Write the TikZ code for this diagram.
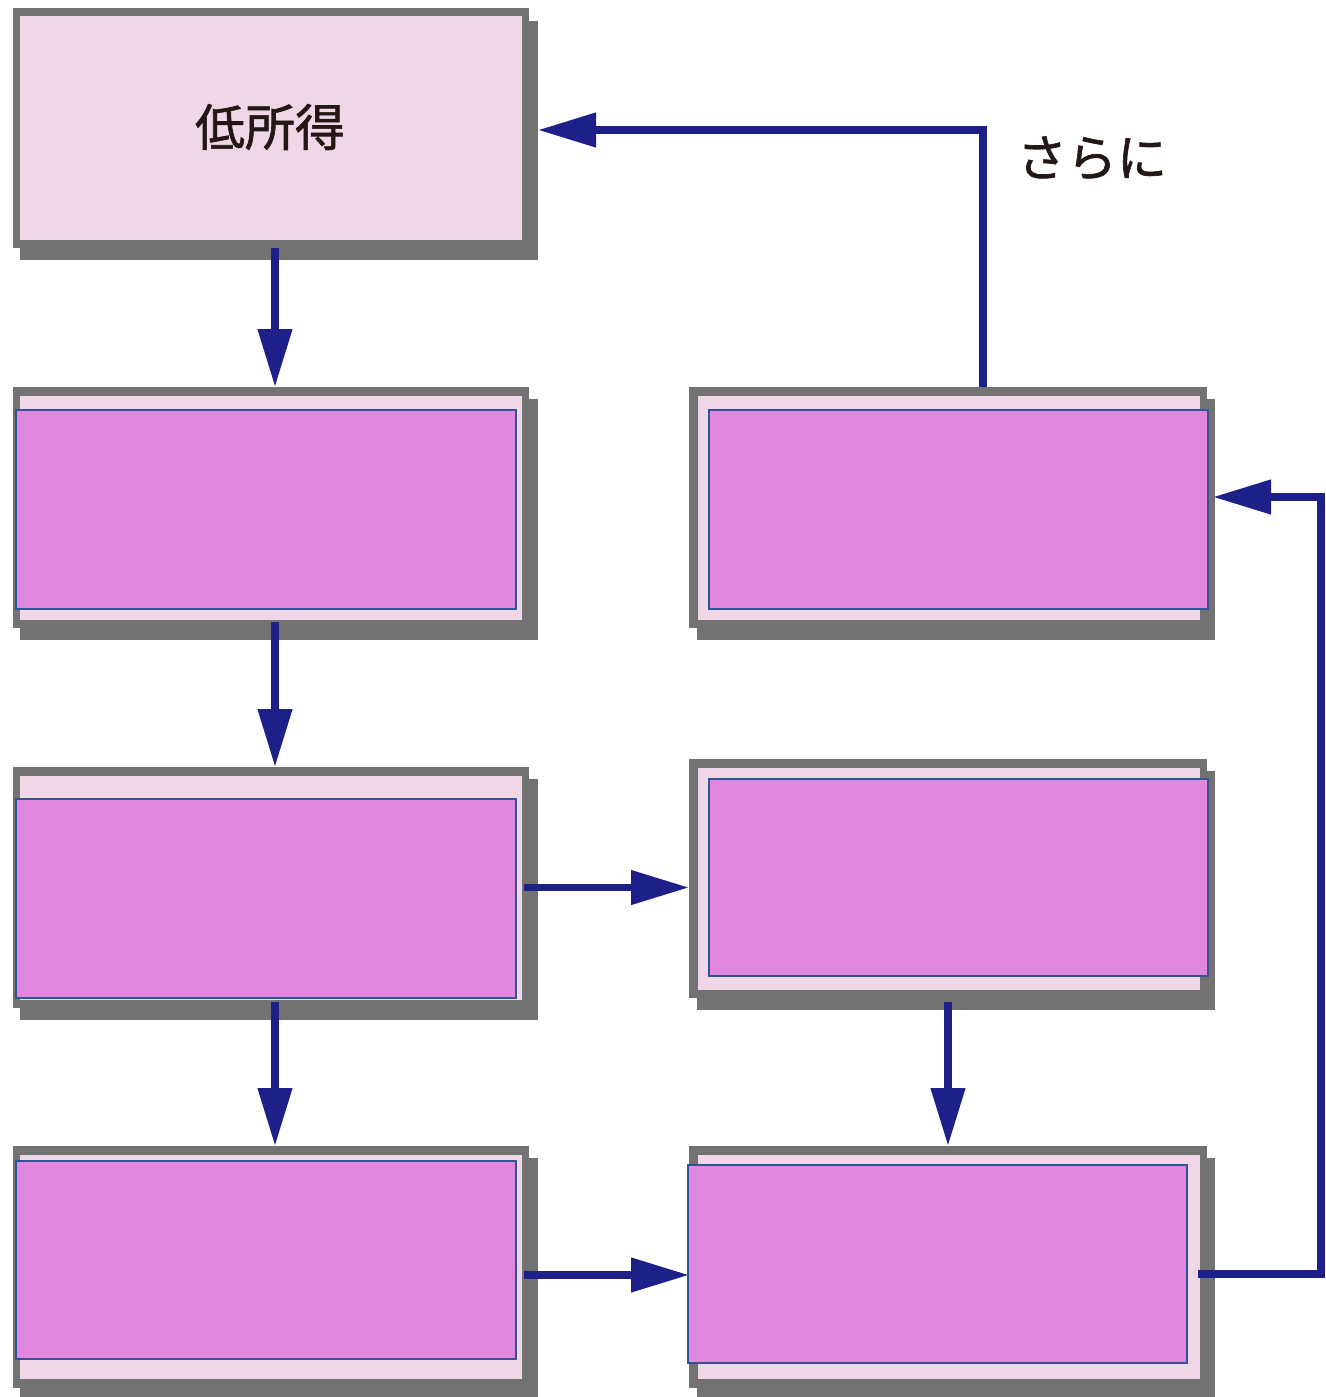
\documentclass[tikz,border=0pt]{standalone}
\usepackage{fontspec}
\newfontfamily\jp[FakeBold=1.3]{Noto Sans CJK JP}
\usetikzlibrary{arrows.meta,calc}
\definecolor{shc}{HTML}{727272}
\definecolor{lpink}{HTML}{F0D7E8}
\definecolor{mag}{HTML}{E287DE}
\definecolor{ib}{HTML}{2F5597}
\definecolor{navy}{HTML}{1E2089}
\definecolor{txt}{HTML}{231815}
\tikzset{
  graybox/.style={rectangle, fill=shc, draw=none, inner sep=0pt, outer sep=0pt},
  pinkbox/.style={rectangle, fill=lpink, draw=none, inner sep=0pt, outer sep=0pt},
  innerbox/.style={rectangle, fill=mag, draw=ib, line width=2pt, inner sep=0pt, outer sep=0pt},
  arr/.style={draw=navy, line width=7.5pt, -{Triangle[length=58pt,width=33pt]}},
  jtext/.style={text=txt, font=\jp\fontsize{50}{60}\selectfont, inner sep=0pt},
}
\begin{document}
\begin{tikzpicture}[x=1pt, y=-1pt]
\useasboundingbox (0,0) rectangle (1325,1397);
% ---- Box A
\fill[shc] (20,21) rectangle (538,260);
\node[graybox, minimum width=516, minimum height=240] (Ao) at (271,128) {};
\node[pinkbox, minimum width=502, minimum height=224] (A) at (271,128) {};
\node[jtext] (Atext) at (270,127) {低所得};
% ---- Box B
\fill[shc] (20,399) rectangle (538,640);
\node[graybox, minimum width=516, minimum height=241] (Bo) at (271,507.5) {};
\fill[lpink] (20,396) rectangle (522,620);
\node[innerbox, minimum width=500, minimum height=199] (B) at (266,509.5) {};
% ---- Box C
\fill[shc] (20,779) rectangle (538,1020);
\node[graybox, minimum width=516, minimum height=241] (Co) at (271,887.5) {};
\fill[lpink] (20,776) rectangle (522,1000);
\node[innerbox, minimum width=500, minimum height=199] (C) at (266,898.5) {};
% ---- Box D
\fill[shc] (20,1158) rectangle (538,1397);
\node[graybox, minimum width=516, minimum height=242] (Do) at (271,1267) {};
\fill[lpink] (20,1155) rectangle (522,1379);
\node[innerbox, minimum width=500, minimum height=198] (D) at (266,1260) {};
% ---- Box E
\fill[shc] (697,399) rectangle (1215,640);
\node[graybox, minimum width=518, minimum height=241] (Eo) at (948,507.5) {};
\fill[lpink] (698,396) rectangle (1200,620);
\node[innerbox, minimum width=499, minimum height=199] (E) at (958.5,509.5) {};
% ---- Box F
\fill[shc] (697,771) rectangle (1215,1010);
\node[graybox, minimum width=518, minimum height=239] (Fo) at (948,878.5) {};
\fill[lpink] (698,768) rectangle (1200,990);
\node[innerbox, minimum width=499, minimum height=197] (F) at (958.5,877.5) {};
% ---- Box G
\fill[shc] (697,1158) rectangle (1215,1397);
\node[graybox, minimum width=518, minimum height=242] (Go) at (948,1267) {};
\fill[lpink] (698,1155) rectangle (1200,1379);
\node[innerbox, minimum width=499, minimum height=198] (G) at (937.5,1264) {};
% ---- label
\node[jtext] (lbl) at (1092,158) {さらに};
% ---- connectors
\draw[arr] ([xshift=4pt]Ao.south) -- ([xshift=4pt]Bo.north);
\draw[arr] ([xshift=4pt,yshift=6pt]Bo.south) -- ([xshift=4pt]Co.north);
\draw[arr] ([xshift=4pt,yshift=6pt]Co.south) -- ([xshift=4pt]Do.north);
\draw[arr] ([xshift=-5pt]Co.east) -- (Co.east -| Fo.west);
\draw[arr] ([xshift=-5pt,yshift=-8pt]Do.east) -- ([yshift=-8pt]Go.west);
\draw[arr] ([yshift=-4pt]Fo.south) -- (Go.north);
\coordinate (R) at (1321,497);
\draw[arr] ([xshift=-9pt,yshift=-7pt]Go.east) -| (R) -- ([xshift=6pt,yshift=10.5pt]Eo.east);
\draw[arr] ([xshift=35pt]Eo.north) |- ([xshift=9pt,yshift=-2pt]Ao.east);
\end{tikzpicture}
\end{document}
